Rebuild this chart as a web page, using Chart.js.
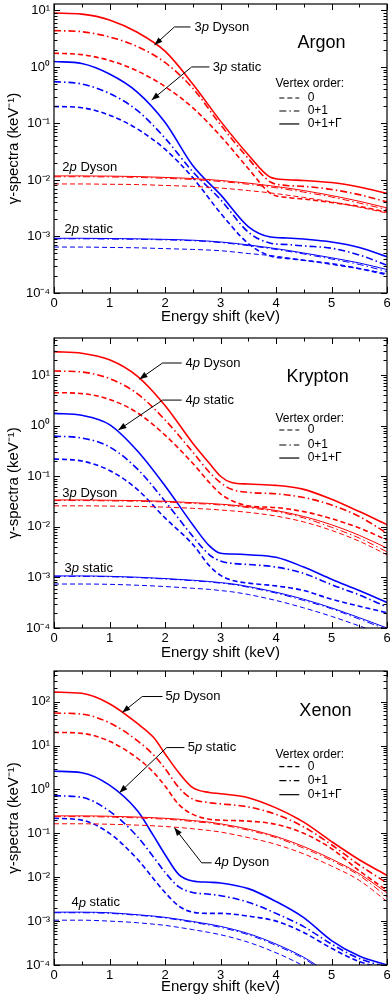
<!DOCTYPE html>
<html><head><meta charset="utf-8">
<script src="https://cdn.jsdelivr.net/npm/chart.js@4"></script>
<style>
html,body{margin:0;padding:0;background:#fff;width:392px;height:1007px;overflow:hidden}
canvas{position:absolute;left:0}
</style></head><body>
<canvas id="c1" width="392" height="330" style="top:0px"></canvas>
<canvas id="c2" width="392" height="335" style="top:330px"></canvas>
<canvas id="c3" width="392" height="342" style="top:665px"></canvas>
<script>
const FONT = "'Liberation Sans', Arial, Helvetica, sans-serif";
const RED = '#ff0000', BLUE = '#0000ff';
const DASH = [5,3], DASHDOT = [7,3,1.5,3], SOLID = [];

// ---------- tick labels ----------
const xTickValues = [0,1,2,3,4,5,6];
const yDecadeExponents = [-4,-3,-2,-1,0,1,2];
const xTitle = 'Energy shift (keV)';
const yTitle = 'γ-spectra (keV⁻¹)';
const legendTitle = 'Vertex order:';
const legendLabels = ['0','0+1','0+1+Γ'];

// ---------- Argon ----------
const argonX = [0,0.5,1,1.5,2,2.5,3,3.5,3.9,4.2,4.5,5,5.5,6];
const ar3pDysonV012 = [9.0,8.6,6.8,4.1,1.9,0.5,0.11,0.028,0.0112,0.0101,0.0098,0.0090,0.0075,0.0058];
const ar3pDysonV01  = [4.4,4.2,3.4,2.3,1.2,0.42,0.095,0.024,0.0092,0.0080,0.0077,0.0068,0.0055,0.0041];
const ar3pDysonV0   = [1.75,1.65,1.3,0.85,0.45,0.19,0.06,0.016,0.0058,0.0049,0.0046,0.0040,0.0034,0.0027];
const ar3pStaticV012 = [1.25,1.15,0.75,0.36,0.105,0.018,0.0055,0.0015,0.00098,0.00094,0.0009,0.0008,0.00064,0.00044];
const ar3pStaticV01  = [0.55,0.5,0.34,0.17,0.055,0.014,0.0045,0.0012,0.00076,0.00072,0.00068,0.00062,0.00047,0.00031];
const ar3pStaticV0   = [0.20,0.19,0.14,0.08,0.035,0.011,0.0026,0.00075,0.00045,0.00041,0.00038,0.00033,0.00027,0.00021];
const ar2pDysonV012 = [0.0118,0.0118,0.0117,0.0115,0.0111,0.0106,0.0098,0.0088,0.0079,0.0072,0.0065,0.0053,0.0042,0.0032];
const ar2pDysonV01  = [0.0114,0.0114,0.0113,0.0111,0.0107,0.0102,0.0094,0.0084,0.0075,0.0068,0.0061,0.0050,0.0039,0.0030];
const ar2pDysonV0   = [0.0085,0.0085,0.0084,0.0083,0.0080,0.0077,0.0072,0.0065,0.0059,0.0054,0.0049,0.0041,0.0033,0.0026];
const ar2pStaticV012 = [0.00093,0.00093,0.00092,0.00091,0.00089,0.00086,0.0008,0.00071,0.00063,0.00057,0.00051,0.00042,0.00034,0.00026];
const ar2pStaticV01  = [0.00091,0.00091,0.0009,0.00089,0.00087,0.00084,0.00078,0.00069,0.00061,0.00055,0.00049,0.0004,0.00032,0.00024];
const ar2pStaticV0   = [0.00065,0.00065,0.00064,0.00063,0.00061,0.00059,0.00056,0.0005,0.00046,0.00042,0.00038,0.00032,0.00027,0.00022];

// ---------- Krypton ----------
const kryptonX = [0,0.5,1,1.5,2,2.5,2.8,3.0,3.2,3.5,4,4.5,5,5.5,6];
const kr4pDysonV012 = [29,27,20,9.5,2.5,0.45,0.18,0.1,0.075,0.07,0.066,0.055,0.035,0.02,0.011];
const kr4pDysonV01  = [12,11.5,8.5,4.3,1.3,0.3,0.12,0.075,0.055,0.048,0.045,0.038,0.027,0.016,0.0075];
const kr4pDysonV0   = [4.5,4.3,3.3,1.8,0.65,0.18,0.075,0.045,0.033,0.026,0.024,0.02,0.0145,0.0095,0.0055];
const kr4pStaticV012 = [1.75,1.6,1.05,0.32,0.065,0.011,0.0042,0.003,0.0029,0.0028,0.0025,0.0016,0.00092,0.00055,0.00032];
const kr4pStaticV01  = [0.62,0.57,0.38,0.14,0.032,0.0065,0.0028,0.0021,0.0019,0.0018,0.0016,0.0012,0.00072,0.00045,0.00026];
const kr4pStaticV0   = [0.22,0.2,0.13,0.055,0.015,0.0045,0.0017,0.0011,0.00088,0.00077,0.00068,0.00055,0.00037,0.00027,0.0002];
const kr3pDysonV012 = [0.034,0.034,0.0335,0.033,0.032,0.030,0.029,0.028,0.027,0.025,0.021,0.016,0.011,0.0068,0.0038];
const kr3pDysonV01  = [0.033,0.033,0.0325,0.032,0.031,0.029,0.028,0.027,0.026,0.024,0.020,0.015,0.0098,0.006,0.0032];
const kr3pDysonV0   = [0.026,0.026,0.0257,0.0253,0.0245,0.0232,0.0223,0.0215,0.0207,0.0193,0.0163,0.0125,0.0085,0.0052,0.0028];
const kr3pStaticV012 = [0.00107,0.00107,0.00105,0.00101,0.00095,0.00088,0.00083,0.00079,0.00075,0.00066,0.00051,0.00037,0.00025,0.00016,0.0001];
const kr3pStaticV01  = [0.00105,0.00105,0.00103,0.00099,0.00093,0.00086,0.00081,0.00077,0.00073,0.00064,0.00049,0.00035,0.00024,0.00015,0.000093];
const kr3pStaticV0   = [0.00074,0.00074,0.00073,0.0007,0.00066,0.00061,0.00058,0.00055,0.00052,0.00046,0.00035,0.00025,0.00017,0.00011,0.00007];

// ---------- Xenon ----------
const xenonX = [0,0.5,1,1.5,1.8,2,2.25,2.5,2.8,3,3.5,4,4.5,5,5.5,6];
const xe5pDysonV012 = [165,155,90,32,15,6.5,2.4,1.1,0.85,0.8,0.65,0.38,0.18,0.065,0.025,0.011];
const xe5pDysonV01  = [55,52,33,13,6.0,3.0,1.1,0.6,0.5,0.47,0.4,0.27,0.14,0.055,0.019,0.0074];
const xe5pDysonV0   = [20,19,12.5,5.2,2.4,1.2,0.45,0.27,0.21,0.2,0.19,0.16,0.1,0.045,0.014,0.005];
const xe5pStaticV012 = [2.6,2.4,1.25,0.33,0.085,0.033,0.0115,0.0082,0.0077,0.0074,0.0055,0.0028,0.0012,0.00036,0.00016,0.0001];
const xe5pStaticV01  = [0.72,0.66,0.32,0.085,0.028,0.013,0.006,0.0045,0.0041,0.0038,0.0027,0.0015,0.00075,0.0003,0.00014,0.00009];
const xe5pStaticV0   = [0.22,0.2,0.1,0.026,0.009,0.0045,0.0022,0.0016,0.0015,0.0015,0.0013,0.001,0.00055,0.00024,0.00012,0.00008];
const xe4pDysonV012 = [0.25,0.25,0.245,0.235,0.227,0.22,0.21,0.195,0.18,0.165,0.125,0.085,0.05,0.026,0.012,0.0044];
const xe4pDysonV01  = [0.24,0.24,0.235,0.225,0.217,0.21,0.2,0.186,0.171,0.157,0.118,0.08,0.046,0.024,0.011,0.0036];
const xe4pDysonV0   = [0.165,0.165,0.161,0.154,0.148,0.143,0.136,0.127,0.116,0.107,0.08,0.056,0.034,0.018,0.0085,0.0028];
const xe4pStaticV012 = [0.0016,0.0016,0.00155,0.0014,0.0013,0.00122,0.0011,0.00098,0.00085,0.00076,0.00052,0.0003,0.00015,0.00006,0.00003,0.000015];
const xe4pStaticV01  = [0.00155,0.00155,0.0015,0.00136,0.00126,0.00118,0.00106,0.00094,0.00081,0.00072,0.00049,0.00028,0.00014,0.000055,0.000027,0.000013];
const xe4pStaticV0   = [0.00105,0.00105,0.001,0.00092,0.00085,0.0008,0.00072,0.00064,0.00055,0.00049,0.00033,0.00019,0.000095,0.00004,0.00002,0.00001];

// ---------- styling helpers ----------
const W_MAIN = 1.6, W_SUB = 1.0;
function trio(v012, v01, v0, color, w){
  return [
    {data:v0, color, w, dash:DASH},
    {data:v01, color, w, dash:DASHDOT},
    {data:v012, color, w, dash:SOLID}
  ];
}
const SUPMAP = {'-':'⁻','0':'⁰','1':'¹','2':'²','3':'³','4':'⁴','5':'⁵','6':'⁶','7':'⁷','8':'⁸','9':'⁹'};
function powLabel(e){ return '10' + String(e).split('').map(c=>SUPMAP[c]).join(''); }

// ---------- annotations (data coordinates) ----------
const argonNotes = {
  name:{text:'Argon', x:4.82, y:2.66},
  arrows:[ [[2.46,5.1],[2.17,5.1],[1.81,2.45]], [[2.80,1.0],[2.48,1.0],[1.76,0.26]] ],
  labels:[ {x:2.53,y:5.1,t:['3','p',' Dyson']}, {x:2.86,y:1.0,t:['3','p',' static']},
           {x:0.15,y:0.017,t:['2','p',' Dyson']}, {x:0.19,y:0.00135,t:['2','p',' static']} ],
  legend:{x:3.99, y:0.5, rows:[0.282,0.166,0.098], lx0:4.06, lx1:4.42, tx:4.57}
};
const kryptonNotes = {
  name:{text:'Krypton', x:4.75, y:9.1},
  arrows:[ [[2.30,17.3],[1.955,17.3],[1.54,8.3]], [[2.30,3.2],[1.955,3.2],[1.16,0.82]] ],
  labels:[ {x:2.37,y:17.3,t:['4','p',' Dyson']}, {x:2.37,y:3.2,t:['4','p',' static']},
           {x:0.15,y:0.0466,t:['3','p',' Dyson']}, {x:0.19,y:0.00153,t:['3','p',' static']} ],
  legend:{x:3.99, y:1.35, rows:[0.82,0.414,0.229], lx0:4.06, lx1:4.42, tx:4.57}
};
const xenonNotes = {
  name:{text:'Xenon', x:4.89, y:59.7},
  arrows:[ [[1.955,131],[1.59,131],[1.23,56.6]], [[2.35,9.0],[2.03,9.0],[1.18,0.845]],
           [[2.84,0.0213],[2.66,0.0213],[2.17,0.134]] ],
  labels:[ {x:2.01,y:131,t:['5','p',' Dyson']}, {x:2.41,y:9.0,t:['5','p',' static']},
           {x:2.89,y:0.0213,t:['4','p',' Dyson']}, {x:0.315,y:0.0026,t:['4','p',' static']} ],
  legend:{x:3.99, y:6.24, rows:[3.32,1.59,0.76], lx0:4.06, lx1:4.42, tx:4.57}
};

function decor(notes){
  return {id:'decor', afterDraw(chart){
    const {ctx, chartArea:a} = chart; const sx = chart.scales.x, sy = chart.scales.y;
    const X = v=>sx.getPixelForValue(v), Y = v=>sy.getPixelForValue(v);
    ctx.save();
    ctx.strokeStyle='#000'; ctx.fillStyle='#000'; ctx.lineWidth=1; ctx.setLineDash([]);
    ctx.beginPath();
    for (let i=0;i<=12;i++){ const v=i*0.5; const px=Math.round(X(v))+0.5; const L=(i%2===0)?6:3.5;
      ctx.moveTo(px,a.bottom); ctx.lineTo(px,a.bottom-L); ctx.moveTo(px,a.top); ctx.lineTo(px,a.top+L); }
    const lo=Math.floor(Math.log10(sy.min)), hi=Math.ceil(Math.log10(sy.max));
    for (let e=lo;e<=hi;e++) for (let k=1;k<10;k++){ const v=k*Math.pow(10,e);
      if (v<sy.min*0.999 || v>sy.max*1.001) continue;
      const py=Math.round(Y(v))+0.5; const L=(k===1)?6:3.5;
      ctx.moveTo(a.left,py); ctx.lineTo(a.left+L,py); ctx.moveTo(a.right,py); ctx.lineTo(a.right-L,py); }
    ctx.stroke();
    ctx.lineWidth=1.2;
    ctx.strokeRect(a.left, a.top, a.right-a.left, a.bottom-a.top);
    // arrows
    ctx.lineWidth=1;
    notes.arrows.forEach(p=>{
      const pts=p.map(q=>[X(q[0]),Y(q[1])]);
      ctx.beginPath(); ctx.moveTo(pts[0][0],pts[0][1]);
      for(let i=1;i<pts.length;i++) ctx.lineTo(pts[i][0],pts[i][1]);
      ctx.stroke();
      const [tx,ty]=pts[pts.length-1], [bx,by]=pts[pts.length-2];
      const ang=Math.atan2(ty-by,tx-bx), L=8, Wd=3;
      ctx.beginPath(); ctx.moveTo(tx,ty);
      ctx.lineTo(tx-L*Math.cos(ang)+Wd*Math.sin(ang), ty-L*Math.sin(ang)-Wd*Math.cos(ang));
      ctx.lineTo(tx-L*Math.cos(ang)-Wd*Math.sin(ang), ty-L*Math.sin(ang)+Wd*Math.cos(ang));
      ctx.closePath(); ctx.fill();
    });
    // labels with italic p
    ctx.textBaseline='middle'; ctx.textAlign='left';
    notes.labels.forEach(l=>{
      let x=X(l.x); const y=Y(l.y);
      l.t.forEach((s,i)=>{ ctx.font=(i===1?'italic ':'')+'13px '+FONT; ctx.fillText(s,x,y); x+=ctx.measureText(s).width; });
    });
    // element name
    ctx.textAlign='center'; ctx.font='18px '+FONT;
    ctx.fillText(notes.name.text, X(notes.name.x), Y(notes.name.y));
    // legend
    const lg=notes.legend; ctx.textAlign='left'; ctx.font='12px '+FONT;
    ctx.fillText(legendTitle, X(lg.x), Y(lg.y));
    const dashes=[DASH,DASHDOT,SOLID];
    lg.rows.forEach((ry,i)=>{
      const py=Y(ry);
      ctx.setLineDash(dashes[i]); ctx.lineWidth=1.2;
      ctx.beginPath(); ctx.moveTo(X(lg.lx0),py); ctx.lineTo(X(lg.lx1),py); ctx.stroke();
      ctx.setLineDash([]);
      ctx.fillText(legendLabels[i], X(lg.tx), py);
    });
    ctx.restore();
  }};
}

function makeChart(id, xs, series, ymax, notes, padTop, xAxisH, titlePadBottom){
  const datasets = series.map(s=>({
    data: xs.map((x,i)=>({x, y:s.data[i]})),
    borderColor:s.color, borderWidth:s.w, borderDash:s.dash,
    pointRadius:0, fill:false, cubicInterpolationMode:'monotone'
  }));
  return new Chart(document.getElementById(id), {
    type:'line',
    data:{datasets},
    options:{
      responsive:false, animation:false, events:[],
      layout:{padding:{top:padTop, right:5, left:0, bottom:0}},
      plugins:{legend:{display:false}, tooltip:{enabled:false}},
      scales:{
        x:{type:'linear', min:0, max:6,
          afterBuildTicks:s=>{ s.ticks = xTickValues.map(v=>({value:v})); },
          grid:{display:false, drawTicks:false}, border:{display:false},
          ticks:{padding:3, color:'#000', font:{family:FONT, size:13}, maxRotation:0, autoSkip:false},
          title:{display:true, text:xTitle, color:'#000', font:{family:FONT, size:15}, padding:{top:0,bottom:titlePadBottom}},
          afterFit:s=>{ s.height=xAxisH; s.paddingLeft=0; s.paddingRight=0; }
        },
        y:{type:'logarithmic', min:1e-4, max:ymax,
          afterBuildTicks:s=>{ s.ticks = yDecadeExponents.map(e=>Math.pow(10,e)).filter(v=>v<=ymax).map(v=>({value:v, major:true})); },
          grid:{display:false, drawTicks:false}, border:{display:false},
          ticks:{padding:4, color:'#000', font:{family:FONT, size:13}, autoSkip:false,
            callback:v=>powLabel(Math.round(Math.log10(v)))},
          title:{display:true, text:yTitle, color:'#000', font:{family:FONT, size:15}, padding:{top:5,bottom:0}},
          afterFit:s=>{ s.width=54; s.paddingTop=0; s.paddingBottom=0; }
        }
      }
    },
    plugins:[decor(notes)]
  });
}

makeChart('c1', argonX, [
  ...trio(ar2pStaticV012, ar2pStaticV01, ar2pStaticV0, BLUE, W_SUB),
  ...trio(ar2pDysonV012, ar2pDysonV01, ar2pDysonV0, RED, W_SUB),
  ...trio(ar3pStaticV012, ar3pStaticV01, ar3pStaticV0, BLUE, W_MAIN),
  ...trio(ar3pDysonV012, ar3pDysonV01, ar3pDysonV0, RED, W_MAIN)
], 13, argonNotes, 4, 37, 4);

makeChart('c2', kryptonX, [
  ...trio(kr3pStaticV012, kr3pStaticV01, kr3pStaticV0, BLUE, W_SUB),
  ...trio(kr3pDysonV012, kr3pDysonV01, kr3pDysonV0, RED, W_SUB),
  ...trio(kr4pStaticV012, kr4pStaticV01, kr4pStaticV0, BLUE, W_MAIN),
  ...trio(kr4pDysonV012, kr4pDysonV01, kr4pDysonV0, RED, W_MAIN)
], 54, kryptonNotes, 8, 37, 3);

makeChart('c3', xenonX, [
  ...trio(xe4pStaticV012, xe4pStaticV01, xe4pStaticV0, BLUE, W_SUB),
  ...trio(xe4pDysonV012, xe4pDysonV01, xe4pDysonV0, RED, W_SUB),
  ...trio(xe5pStaticV012, xe5pStaticV01, xe5pStaticV0, BLUE, W_MAIN),
  ...trio(xe5pDysonV012, xe5pDysonV01, xe5pDysonV0, RED, W_MAIN)
], 500, xenonNotes, 6, 42, 11);
</script>
</body></html>
